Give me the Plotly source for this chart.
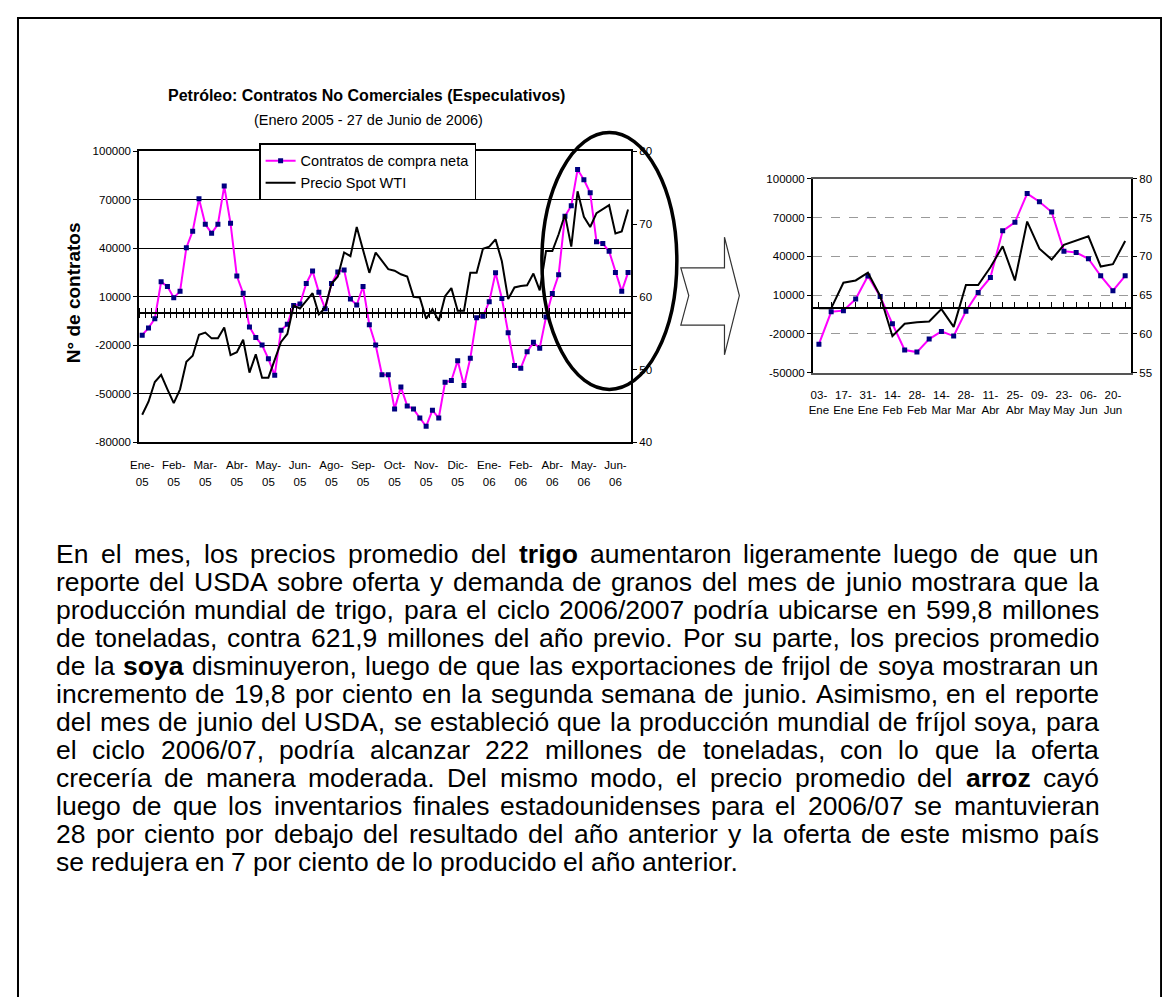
import plotly.graph_objects as go
import pandas as pd

W, H = 1170, 997          # screenshot size
OFF = 8                   # default body margin of the html page
FW, FH = W - OFF, H - OFF # figure size so that page + margin == window
FONT = "Liberation Sans, Arial, sans-serif"

# ---------------- data ----------------
weeks = [d.strftime("%Y-%m-%d") for d in pd.date_range("2005-01-04", "2006-06-27", freq="7D")]

contracts = [-13700, -9200, -3500, 19300, 16400, 9500, 13400, 40400, 50600, 70700,
             54900, 49400, 54900, 78500, 55500, 22900, 12300, -8600, -15100, -19800,
             -28300, -38500, -10600, -7000, 4600, 5600, 18300, 26000, 12800, 2700,
             18200, 25400, 26600, 8700, 5000, 16400, -7300, -19800, -38100, -38100,
             -59400, -45800, -57400, -59400, -64900, -70000, -60100, -64900, -42800, -41700,
             -29500, -44800, -28000, -2900, -2000, 7000, 24900, 9000, -12200, -32500,
             -34100, -24000, -18100, -21700, -2400, 12100, 23700, 59800, 66400, 88700,
             82400, 74400, 44100, 43000, 38200, 25000, 13400, 25000]

price = [43.8, 45.6, 48.3, 49.3, 47.3, 45.4, 47.3, 51.1, 51.9, 54.8,
         55.1, 54.3, 54.3, 55.8, 52.0, 52.4, 54.1, 49.6, 52.1, 48.9,
         48.9, 51.4, 53.8, 54.9, 58.8, 58.4, 59.4, 60.5, 57.6, 58.5,
         61.8, 62.8, 66.1, 65.6, 69.6, 66.4, 63.3, 66.1, 64.9, 63.8,
         63.6, 63.1, 62.8, 60.0, 59.9, 57.0, 58.3, 56.7, 60.1, 61.2,
         58.1, 58.1, 63.3, 63.3, 66.6, 66.9, 67.9, 64.9, 59.7, 61.3,
         61.5, 61.6, 63.2, 60.9, 66.3, 66.3, 68.6, 71.3, 66.9, 74.5,
         71.0, 69.6, 71.5, 72.0, 72.6, 68.7, 69.0, 72.0]

month_labels = ["Ene-05", "Feb-05", "Mar-05", "Abr-05", "May-05", "Jun-05", "Ago-05", "Sep-05",
                "Oct-05", "Nov-05", "Dic-05", "Ene-06", "Feb-06", "Abr-06", "May-06", "Jun-06"]
left_ticks = [100000, 70000, 40000, 10000, -20000, -50000, -80000]
left_tick_text = ["100000", "70000", "40000", "10000", "-20000", "-50000", "-80000"]
right_ticks = [40, 50, 60, 70, 80]

zoom_start = weeks.index("2006-01-03")
zoom_labels = ["03-Ene", "17-Ene", "31-Ene", "14-Feb", "28-Feb", "14-Mar", "28-Mar",
               "11-Abr", "25-Abr", "09-May", "23-May", "06-Jun", "20-Jun"]
zoom_left_ticks = [100000, 70000, 40000, 10000, -20000, -50000]
zoom_left_text = ["100000", "70000", "40000", "10000", "-20000", "-50000"]
zoom_right_ticks = [55, 60, 65, 70, 75, 80]

title = "Petróleo: Contratos No Comerciales (Especulativos)"
subtitle = "(Enero 2005 - 27 de Junio de 2006)"
ytitle = "N° de contratos"
series_names = ["Contratos de compra neta", "Precio Spot WTI"]

text_lines = [
    "En el mes, los precios promedio del **trigo** aumentaron ligeramente luego de que un",
    "reporte del USDA sobre oferta y demanda de granos del mes de junio mostrara que la",
    "producción mundial de trigo, para el ciclo 2006/2007 podría ubicarse en 599,8 millones",
    "de toneladas, contra 621,9 millones del año previo. Por su parte, los precios promedio",
    "de la **soya** disminuyeron, luego de que las exportaciones de frijol de soya mostraran un",
    "incremento de 19,8 por ciento en la segunda semana de junio. Asimismo, en el reporte",
    "del mes de junio del USDA, se estableció que la producción mundial de fríjol soya, para",
    "el ciclo 2006/07, podría alcanzar 222 millones de toneladas, con lo que la oferta",
    "crecería de manera moderada. Del mismo modo, el precio promedio del **arroz** cayó",
    "luego de que los inventarios finales estadounidenses para el 2006/07 se mantuvieran",
    "28 por ciento por debajo del resultado del año anterior y la oferta de este mismo país",
    "se redujera en 7 por ciento de lo producido el año anterior.",
]

# ---------------- helpers ----------------
def fx(px):
    return (px - OFF) / FW


def fy(py):
    return 1 - (py - OFF) / FH


# Arial / Liberation Sans advance widths (1/1000 em)
REG = {' ': 278, ',': 278, '.': 278, '/': 278, '-': 333, ':': 278,
       'a': 556, 'b': 556, 'c': 500, 'd': 556, 'e': 556, 'f': 278, 'g': 556, 'h': 556,
       'i': 222, 'j': 222, 'k': 500, 'l': 222, 'm': 833, 'n': 556, 'o': 556, 'p': 556,
       'q': 556, 'r': 333, 's': 500, 't': 278, 'u': 556, 'v': 500, 'w': 722, 'x': 500,
       'y': 500, 'z': 500, 'á': 556, 'é': 556, 'í': 278, 'ó': 556, 'ú': 556, 'ñ': 556,
       'A': 667, 'B': 667, 'C': 722, 'D': 722, 'E': 667, 'F': 611, 'G': 778, 'H': 722,
       'I': 278, 'J': 500, 'K': 667, 'L': 556, 'M': 833, 'N': 722, 'O': 778, 'P': 667,
       'Q': 778, 'R': 722, 'S': 667, 'T': 611, 'U': 722, 'V': 667, 'W': 944, 'X': 667,
       'Y': 667, 'Z': 611}
for dch in "0123456789":
    REG[dch] = 556
BOLD = dict(REG)
BOLD.update({'a': 556, 'b': 611, 'c': 556, 'd': 611, 'e': 556, 'f': 333, 'g': 611, 'h': 611,
             'i': 278, 'j': 278, 'k': 556, 'l': 278, 'm': 889, 'n': 611, 'o': 611, 'p': 611,
             'q': 611, 'r': 389, 's': 556, 't': 333, 'u': 611, 'v': 556, 'w': 778, 'x': 556,
             'y': 556, 'z': 500})


def text_width(s, size, bold=False):
    table = BOLD if bold else REG
    return sum(table.get(c, 556) for c in s) * size / 1000.0


# ---------------- figure ----------------
fig = go.Figure()
xi = list(range(len(weeks)))
xz = list(range(len(weeks) - zoom_start))

fig.add_trace(go.Scatter(x=xi, y=contracts, mode="lines+markers", name=series_names[0],
                         line=dict(color="#FF00FF", width=2),
                         marker=dict(symbol="square", size=5, color="#000080"),
                         xaxis="x", yaxis="y", hoverinfo="skip"))
fig.add_trace(go.Scatter(x=xi, y=price, mode="lines", name=series_names[1],
                         line=dict(color="black", width=2),
                         xaxis="x", yaxis="y2", hoverinfo="skip"))
fig.add_trace(go.Scatter(x=xz, y=contracts[zoom_start:], mode="lines+markers",
                         line=dict(color="#FF00FF", width=2),
                         marker=dict(symbol="square", size=5, color="#000080"),
                         xaxis="x4", yaxis="y3", showlegend=False, hoverinfo="skip"))
fig.add_trace(go.Scatter(x=xz, y=price[zoom_start:], mode="lines",
                         line=dict(color="black", width=2),
                         xaxis="x4", yaxis="y4", showlegend=False, hoverinfo="skip"))
# carriers for the helper axes (zero lines with ticks, second label rows)
for xa, ya in [("x2", "y"), ("x3", "y"), ("x5", "y3"), ("x6", "y"), ("x7", "y3")]:
    fig.add_trace(go.Scatter(x=[], y=[], xaxis=xa, yaxis=ya, showlegend=False, hoverinfo="skip"))

tick_font = dict(family=FONT, size=11.5, color="black")
CLEAR = "rgba(0,0,0,0)"

# main chart geometry (screen pixels)
mx0, mx1, my0, my1 = 131, 627, 147, 441.7
ymin, ymax = -80000, 100000
main_dom_y = [fy(my1), fy(my0)]
zero_main = main_dom_y[0] + (0 - ymin) / (ymax - ymin) * (main_dom_y[1] - main_dom_y[0])
xr = [-0.5, len(weeks) - 0.5]
bounds = [k - 0.5 for k in range(len(weeks) + 1)]
main_label_pos = list(range(0, len(weeks), 5))

# zoom chart geometry (screen pixels)
zx0, zx1, zy0, zy1 = 810, 1131, 175, 371
zmin, zmax = -50000, 100000
zoom_dom_y = [fy(zy1), fy(zy0)]
zero_zoom = zoom_dom_y[0] + (0 - zmin) / (zmax - zmin) * (zoom_dom_y[1] - zoom_dom_y[0])
xzr = [-0.5, len(xz) - 0.5]
zoom_label_pos = list(range(0, len(xz), 2))

axis_common = dict(showgrid=False, zeroline=False, tickfont=tick_font, fixedrange=True)

fig.update_layout(
    width=FW, height=FH, autosize=False,
    margin=dict(l=0, r=0, t=0, b=0),
    paper_bgcolor="white", plot_bgcolor="rgba(0,0,0,0)",
    font=dict(family=FONT, color="black"),
    showlegend=True,
    legend=dict(x=fx(252), y=fy(139), xanchor="left", yanchor="top",
                bordercolor="black", borderwidth=1.5, bgcolor="white",
                font=dict(family=FONT, size=14.5, color="black"),
                tracegroupgap=0, itemwidth=30),
    # ---- main chart ----
    xaxis=dict(domain=[fx(mx0), fx(mx1)], range=xr, anchor="y",
               tickmode="array", tickvals=main_label_pos,
               ticktext=[m.split("-")[0] + "-" for m in month_labels],
               ticks="outside", ticklen=11, tickcolor=CLEAR,
               showline=True, mirror=True, linecolor="black", linewidth=1.5,
               **axis_common),
    xaxis6=dict(overlaying="x", anchor="y", side="bottom", range=xr,
                tickmode="array", tickvals=main_label_pos,
                ticktext=[m.split("-")[1] for m in month_labels],
                ticks="outside", ticklen=29, tickcolor=CLEAR, showline=False,
                **axis_common),
    yaxis=dict(domain=main_dom_y, range=[ymin, ymax], anchor="x",
               tickmode="array", tickvals=left_ticks, ticktext=left_tick_text,
               ticks="outside", ticklen=4, tickcolor="black",
               showline=True, linecolor="black", linewidth=1.5,
               showgrid=True, gridcolor="black", gridwidth=1.2,
               zeroline=False, tickfont=tick_font, fixedrange=True),
    yaxis2=dict(overlaying="y", side="right", anchor="x", range=[40, 80],
                tickmode="array", tickvals=right_ticks,
                ticks="outside", ticklen=4, tickcolor="black",
                showline=True, linecolor="black", linewidth=1.5, **axis_common),
    xaxis2=dict(overlaying="x", anchor="free", position=zero_main, side="bottom", range=xr,
                tickmode="array", tickvals=bounds, ticks="outside", ticklen=4, tickwidth=1.2,
                tickcolor="black", showticklabels=False,
                showline=True, linecolor="black", linewidth=1.5, **axis_common),
    xaxis3=dict(overlaying="x", anchor="free", position=zero_main, side="top", range=xr,
                tickmode="array", tickvals=bounds, ticks="outside", ticklen=4, tickwidth=1.2,
                tickcolor="black", showticklabels=False,
                showline=True, linecolor="black", linewidth=1.5, **axis_common),
    # ---- zoom chart ----
    xaxis4=dict(domain=[fx(zx0), fx(zx1)], range=xzr, anchor="y3",
                tickmode="array", tickvals=zoom_label_pos,
                ticktext=[z.split("-")[0] + "-" for z in zoom_labels],
                ticks="outside", ticklen=11, tickcolor=CLEAR,
                showline=True, mirror=True, linecolor="#555555", linewidth=1.5,
                **axis_common),
    xaxis7=dict(overlaying="x4", anchor="y3", side="bottom", range=xzr,
                tickmode="array", tickvals=zoom_label_pos,
                ticktext=[z.split("-")[1] for z in zoom_labels],
                ticks="outside", ticklen=27, tickcolor=CLEAR, showline=False,
                **axis_common),
    yaxis3=dict(domain=zoom_dom_y, range=[zmin, zmax], anchor="x4",
                tickmode="array", tickvals=zoom_left_ticks, ticktext=zoom_left_text,
                ticks="outside", ticklen=4, tickcolor="black",
                showline=True, linecolor="black", linewidth=1.5,
                showgrid=True, gridcolor="#9a9a9a", gridwidth=1, griddash="dash",
                zeroline=False, tickfont=tick_font, fixedrange=True),
    yaxis4=dict(overlaying="y3", side="right", anchor="x4", range=[55, 80],
                tickmode="array", tickvals=zoom_right_ticks,
                ticks="outside", ticklen=4, tickcolor="black",
                showline=True, linecolor="black", linewidth=1.5, **axis_common),
    xaxis5=dict(overlaying="x4", anchor="free", position=zero_zoom, side="top", range=xzr,
                tickmode="array", tickvals=list(range(len(xz))), ticks="outside", ticklen=5,
                tickwidth=1.2, tickcolor="black", showticklabels=False,
                showline=True, linecolor="black", linewidth=1.5, **axis_common),
)

annotations = [
    dict(text="<b>" + title + "</b>", x=fx(360), y=fy(91), xref="paper", yref="paper",
         showarrow=False, xanchor="center", yanchor="middle",
         font=dict(family=FONT, size=16, color="black")),
    dict(text=subtitle, x=fx(362), y=fy(115), xref="paper", yref="paper",
         showarrow=False, xanchor="center", yanchor="middle",
         font=dict(family=FONT, size=14.5, color="black")),
    dict(text="<b>" + ytitle + "</b>", x=fx(65), y=fy(290), xref="paper", yref="paper",
         showarrow=False, xanchor="center", yanchor="middle", textangle=-90,
         font=dict(family=FONT, size=19, color="black")),
]

# justified paragraph, word by word
TXT_SIZE = 26.5
TL, TR = 46, 1097
LINE0, LSTEP = 555, 28.3
for k, line in enumerate(text_lines):
    words = line.split(" ")
    items = []
    for wd in words:
        bold = wd.startswith("**") and wd.endswith("**")
        core = wd.strip("*")
        items.append((core, bold, text_width(core, TXT_SIZE, bold)))
    total = sum(it[2] for it in items)
    if k < len(text_lines) - 1 and len(items) > 1:
        gap = (TR - TL - total) / (len(items) - 1)
    else:
        gap = text_width(" ", TXT_SIZE)
    xpos = TL
    for core, bold, wdt in items:
        annotations.append(dict(
            text=("<b>%s</b>" % core) if bold else core,
            x=fx(xpos), y=fy(LINE0 + k * LSTEP), xref="paper", yref="paper",
            showarrow=False, xanchor="left", yanchor="middle", borderpad=0,
            font=dict(family=FONT, size=TXT_SIZE, color="black")))
        xpos += wdt + gap

fig.update_layout(annotations=annotations)

# page frame, highlight ellipse and block arrow
arrow_pts = [(677, 265), (721, 265), (721, 234), (736, 293), (721, 353),
             (721, 323), (677, 323), (685, 293)]
arrow_path = "M " + " L ".join("%f,%f" % (fx(a), fy(b)) for a, b in arrow_pts) + " Z"
fig.update_layout(shapes=[
    dict(type="rect", xref="paper", yref="paper", x0=fx(9), x1=fx(1161), y0=fy(1010), y1=fy(12),
         line=dict(color="black", width=2)),
    dict(type="circle", xref="paper", yref="paper", x0=fx(537), x1=fx(673), y0=fy(388), y1=fy(128),
         line=dict(color="black", width=3.5)),
    dict(type="path", xref="paper", yref="paper", path=arrow_path,
         line=dict(color="#333333", width=1.2)),
])

fig.write_html("out.html")
